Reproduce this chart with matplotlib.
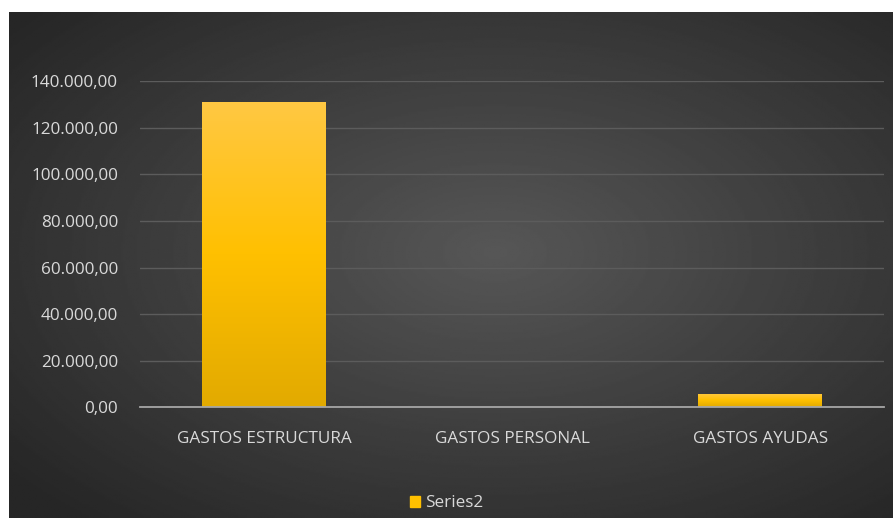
import numpy as np
import matplotlib
matplotlib.use("Agg")
from matplotlib import pyplot as plt
from matplotlib.ticker import FuncFormatter
from matplotlib.patches import Rectangle
from matplotlib.colors import LinearSegmentedColormap

categories = ["GASTOS ESTRUCTURA", "GASTOS PERSONAL", "GASTOS AYUDAS"]
values = [131000, 0, 5800]
series_name = "Series2"

plt.rcParams["font.family"] = ["Open Sans", "DejaVu Sans"]
txt = "#d9d9d9"
fs = 12.3

fig = plt.figure(figsize=(8.93, 5.18), dpi=100)
fig.patch.set_facecolor("white")

# radial background (white margin top/left like the source)
bg = fig.add_axes([9 / 893, 0, 1 - 9 / 893, 1 - 12 / 518], zorder=-10)
yy, xx = np.mgrid[-1:1:300j, -1:1:500j]
r = np.sqrt((xx - 0.1) ** 2 + (yy + 0.05) ** 2) / np.sqrt(2)
bg.imshow(0.34 - 0.19 * np.clip(r, 0, 1), cmap="gray", vmin=0, vmax=1, aspect="auto",
          extent=[0, 1, 0, 1])
bg.axis("off")

ax = fig.add_axes([0.157, 0.214, 0.833, 0.629])
ax.patch.set_alpha(0)
x = np.arange(len(categories))
bars = ax.bar(x, values, width=0.5, color="#ffc000", zorder=3, label=series_name)

# vertical gradient on bars
grad = np.linspace(0, 1, 256).reshape(-1, 1)
cm = LinearSegmentedColormap.from_list("g", ["#e2aa00", "#ffc000", "#ffc843"])
for b in bars:
    if b.get_height() <= 0:
        continue
    im = ax.imshow(grad, cmap=cm, origin="lower", aspect="auto", zorder=4,
                   extent=[b.get_x(), b.get_x() + b.get_width(), 0, b.get_height()])
    im.set_clip_path(b)

ax.set_xlim(-0.5, 2.5)
ax.set_ylim(0, 140000)
ax.set_yticks(np.arange(0, 140001, 20000))
ax.yaxis.set_major_formatter(FuncFormatter(
    lambda v, p: "{:,.2f}".format(v).replace(",", "X").replace(".", ",").replace("X", ".")))
ax.set_xticks(x)
ax.set_xticklabels(categories)
ax.tick_params(colors=txt, labelsize=fs, length=0)
ax.tick_params(axis="x", pad=17)
ax.tick_params(axis="y", pad=16)
ax.grid(axis="y", color="#5c5c5c", linewidth=1, zorder=0)
for s in ["top", "right", "left"]:
    ax.spines[s].set_visible(False)
ax.spines["bottom"].set_color("#a6a6a6")
ax.spines["bottom"].set_linewidth(1.3)
ax.spines["bottom"].set_zorder(5)

leg = fig.legend(handles=[Rectangle((0, 0), 1, 1, color="#ffc000")], labels=[series_name],
                 loc="center", bbox_to_anchor=(0.5, 0.028), frameon=False,
                 handlelength=0.6, handleheight=0.6, handletextpad=0.3, fontsize=fs)
for t in leg.get_texts():
    t.set_color(txt)

plt.savefig("out.png", dpi=100)
